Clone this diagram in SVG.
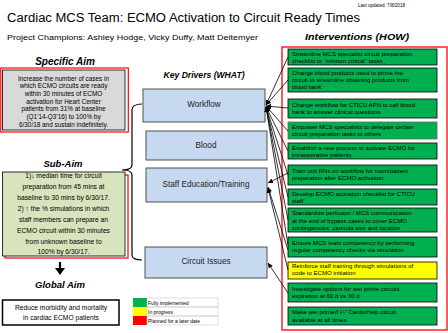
<svg xmlns="http://www.w3.org/2000/svg" width="448" height="333" viewBox="0 0 448 333">
<defs>
<style>
text{font-family:"Liberation Sans",Arial,sans-serif;fill:#000}
.hd{font-weight:bold;font-style:italic;font-size:9.5px;text-anchor:middle}
.iv{fill:#00B050;stroke:#000;stroke-width:0.8}
.ivt{font-size:6.05px}
.kd{fill:#C6D9F1;stroke:#404040;stroke-width:0.9}
.kdt{font-size:8.2px;text-anchor:middle;fill:#222}
.aim{font-size:6.4px;text-anchor:middle}
.cn{stroke:#000;stroke-width:0.8;fill:none;marker-end:url(#ah)}
.lg{font-size:5px}
</style>
<marker id="ah" markerWidth="6" markerHeight="6" refX="5" refY="3" orient="auto" markerUnits="userSpaceOnUse">
<path d="M0,0.5 L5,3 L0,5.5 z" fill="#000"/>
</marker>
</defs>
<rect width="448" height="333" fill="#fff"/>

<g id="header">
<text x="358" y="7" style="font-size:4.6px">Last updated:  7/8/2018</text>
<text x="7" y="22" style="font-size:12.5px" textLength="353" lengthAdjust="spacingAndGlyphs">Cardiac MCS Team: ECMO Activation to Circuit Ready Times</text>
<text x="7" y="40" style="font-size:7.4px" textLength="251" lengthAdjust="spacingAndGlyphs">Project Champions: Ashley Hodge, Vicky Duffy, Matt Deitemyer</text>
<text class="hd" x="357" y="40" textLength="104" lengthAdjust="spacingAndGlyphs">Interventions (HOW)</text>
</g>

<g id="specific-aim">
<text class="hd" x="65" y="65" style="font-size:10px">Specific Aim</text>
<rect x="0.8" y="68" width="127.5" height="64" fill="none" stroke="#FF0000" stroke-width="1.2"/>
<rect x="2.5" y="70" width="122.5" height="60" fill="#D9D9D9" stroke="#000" stroke-width="0.8"/>
<text class="aim" x="63.5" y="80.5">Increase the number of cases in</text>
<text class="aim" x="63.5" y="88.2">which ECMO circuits are ready</text>
<text class="aim" x="63.5" y="95.9">within 30 minutes of ECMO</text>
<text class="aim" x="63.5" y="103.6">activation for Heart Center</text>
<text class="aim" x="63.5" y="111.3">patients from 31% at baseline</text>
<text class="aim" x="63.5" y="119">(Q1’14-Q3’16) to 100% by</text>
<text class="aim" x="63.5" y="126.7">6/30/18 and sustain indefinitely.</text>
</g>

<g id="sub-aim">
<text class="hd" x="63" y="167">Sub-Aim</text>
<rect x="5" y="175" width="123" height="83" fill="none" stroke="#FF0000" stroke-width="1.2"/>
<rect x="2.5" y="172" width="122.5" height="84" fill="#D7E4BD" stroke="#000" stroke-width="0.8"/>
<text class="aim" x="63.5" y="178" style="font-size:6.7px">1)↓ median time for circuit</text>
<text class="aim" x="63.5" y="189" style="font-size:6.7px">preparation from 45 mins at</text>
<text class="aim" x="63.5" y="200" style="font-size:6.7px">baseline to 30 mins by 6/30/17.</text>
<text class="aim" x="63.5" y="211" style="font-size:6.7px">2) ↑ the % simulations in which</text>
<text class="aim" x="63.5" y="222" style="font-size:6.7px">staff members can prepare an</text>
<text class="aim" x="63.5" y="233" style="font-size:6.7px">ECMO circuit within 30 minutes</text>
<text class="aim" x="63.5" y="244" style="font-size:6.7px">from unknown baseline to</text>
<text class="aim" x="63.5" y="254" style="font-size:6.7px">100% by 6/30/17.</text>
</g>

<g id="global-aim">
<text class="hd" x="60" y="288">Global Aim</text>
<rect x="2.5" y="300" width="116.5" height="25" fill="#fff" stroke="#000" stroke-width="1.5"/>
<text class="aim" x="61" y="309.5" style="font-size:6.7px">Reduce morbidity and mortality</text>
<text class="aim" x="61" y="319.5" style="font-size:6.7px">in cardiac ECMO patients</text>
</g>

<g id="legend">
<rect x="133" y="298" width="14" height="9" fill="#00B050"/>
<rect x="133" y="307" width="14" height="9" fill="#FFFF00"/>
<rect x="133" y="316" width="14" height="9" fill="#FF0000"/>
<rect x="147" y="298" width="71" height="9" fill="none" stroke="#C8C8C8" stroke-width="0.6"/>
<rect x="147" y="307" width="71" height="9" fill="none" stroke="#C8C8C8" stroke-width="0.6"/>
<rect x="147" y="316" width="71" height="9" fill="none" stroke="#C8C8C8" stroke-width="0.6"/>
<text class="lg" x="148" y="304.5">Fully implemented</text>
<text class="lg" x="148" y="313.5">In progress</text>
<text class="lg" x="148" y="322.5">Planned for a later date</text>
</g>

<g id="key-drivers">
<text class="hd" x="204" y="78" style="font-size:8.6px">Key Drivers (WHAT)</text>
<g id="kd-workflow"><rect class="kd" x="143" y="89" width="122" height="33"/><text class="kdt" x="204" y="107">Workflow</text></g>
<g id="kd-blood"><rect class="kd" x="146" y="131" width="121" height="29"/><text class="kdt" x="206" y="148">Blood</text></g>
<g id="kd-staff"><rect class="kd" x="146" y="168" width="121" height="34"/><text class="kdt" x="206" y="187">Staff Education/Training</text></g>
<g id="kd-circuit"><rect class="kd" x="145" y="247" width="122" height="31"/><text class="kdt" x="206" y="264">Circuit Issues</text></g>
</g>

<g id="interventions">
<rect x="282" y="47" width="165" height="283" fill="none" stroke="#FF0000" stroke-width="1.3"/>
<g id="iv1"><rect class="iv" x="288" y="49" width="149" height="16"/><text class="ivt" x="292" y="55.5">Streamline MCS specialist circuit preparation</text><text class="ivt" x="292" y="62.5">checklist to “mission critical” tasks</text></g>
<g id="iv2"><rect class="iv" x="288" y="68" width="149" height="24"/><text class="ivt" x="292" y="75">Change blood products used to prime the</text><text class="ivt" x="292" y="82">circuit to streamline obtaining products from</text><text class="ivt" x="292" y="89">blood bank</text></g>
<g id="iv3"><rect class="iv" x="288" y="99" width="149" height="19"/><text class="ivt" x="292" y="107">Change workflow for CTICU APN to call blood</text><text class="ivt" x="292" y="114">bank to answer clinical questions</text></g>
<g id="iv4"><rect class="iv" x="288" y="122" width="149" height="17" style="stroke:#666"/><text class="ivt" x="292" y="129">Empower MCS specialists to delegate certain</text><text class="ivt" x="292" y="136">circuit preparation tasks to others</text></g>
<g id="iv5"><rect class="iv" x="288" y="143" width="149" height="16"/><text class="ivt" x="292" y="150">Establish a new process to activate ECMO for</text><text class="ivt" x="292" y="157">intraoperative patients</text></g>
<g id="iv6"><rect class="iv" x="288" y="165" width="149" height="20"/><text class="ivt" x="292" y="173">Train unit RNs on workflow for room/patient</text><text class="ivt" x="292" y="180">preparation after ECMO activation</text></g>
<g id="iv7"><rect class="iv" x="288" y="189" width="149" height="16"/><text class="ivt" x="292" y="195.5">Develop ECMO activation checklist for CTICU</text><text class="ivt" x="292" y="202.5">staff</text></g>
<g id="iv8"><rect class="iv" x="288" y="208" width="149" height="24"/><text class="ivt" x="292" y="215">Standardize perfusion / MCS communication</text><text class="ivt" x="292" y="222.5">at the end of bypass cases  to cover ECMO</text><text class="ivt" x="292" y="230">contingencies: cannula size and location</text></g>
<g id="iv9"><rect class="iv" x="288" y="237" width="149" height="20"/><text class="ivt" x="292" y="245">Ensure MCS team competency by performing</text><text class="ivt" x="292" y="252">regular competency checks via simulation</text></g>
<g id="iv10"><rect x="288" y="262" width="149" height="17" fill="#FFFF00" stroke="#000" stroke-width="0.8"/><text class="ivt" x="292" y="267.8">Reinforce staff training through simulations of</text><text class="ivt" x="292" y="275.3">code to ECMO initiation</text></g>
<g id="iv11"><rect class="iv" x="288" y="283" width="149" height="19"/><text class="ivt" x="292" y="291">Investigate options for wet prime circuits</text><text class="ivt" x="292" y="298">expiration at 60 d vs 30 d</text></g>
<g id="iv12"><rect class="iv" x="288" y="307" width="149" height="18"/><text class="ivt" x="292" y="314">Make wet primed ¼” CardioHelp circuit</text><text class="ivt" x="292" y="321.5">available at all times</text></g>
</g>

<g id="connectors">
<path d="M142,104 Q132,104 132,110 L132,165 Q132,170 122,170 Q132,170 132,175 L132,255 Q132,260 142,260" stroke="#000" stroke-width="1.2" fill="none"/>
<path d="M60,262 L60,269" stroke="#000" stroke-width="2.2"/>
<path d="M55,268 L65,268 L60,275 z" fill="#000"/>
<line class="cn" x1="288" y1="57" x2="266" y2="105"/>
<line class="cn" x1="288" y1="80" x2="266" y2="105"/>
<line class="cn" x1="288" y1="108" x2="266" y2="106"/>
<line class="cn" x1="288" y1="131" x2="266" y2="106"/>
<line class="cn" x1="288" y1="151" x2="266" y2="107"/>
<line class="cn" x1="288" y1="175" x2="266" y2="107"/>
<line class="cn" x1="288" y1="197" x2="266" y2="107"/>
<line class="cn" x1="288" y1="220" x2="266" y2="107"/>
<line class="cn" x1="288" y1="245" x2="266" y2="107"/>
<line class="cn" x1="288" y1="173" x2="268" y2="183"/>
<line class="cn" x1="288" y1="250" x2="268" y2="187"/>
<line class="cn" x1="288" y1="270" x2="268" y2="188"/>
<line class="cn" x1="288" y1="293" x2="268" y2="263"/>
</g>
</svg>
